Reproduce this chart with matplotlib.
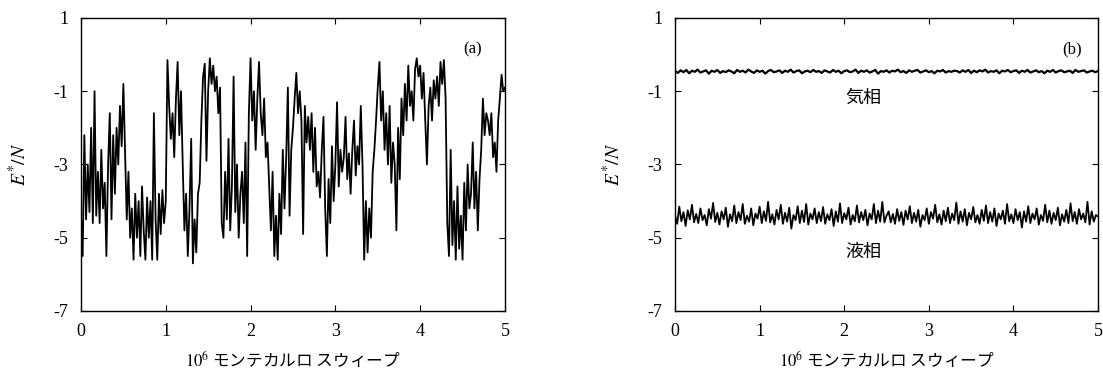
import matplotlib
matplotlib.use("Agg")
import matplotlib.pyplot as plt
import numpy as np

# fonts
plt.rcParams['font.family'] = ['Liberation Serif', 'Noto Sans CJK JP']
plt.rcParams['mathtext.fontset'] = 'stix'
plt.rcParams['axes.unicode_minus'] = False

energy_a = [
    -4.4, -5.5, -2.2, -4.5, -3.0,  -4.3, -2.0, -4.6, -1.0, -4.4,
    -3.2, -4.6, -2.6, -4.2, -3.5,  -5.5, -3.0, -1.6, -4.5, -2.2,
    -3.8, -2.0, -3.0, -1.4, -2.5,  -0.8, -2.6, -4.5, -3.2, -5.0,
    -4.2, -5.6, -3.8, -5.0, -4.0,  -5.5, -3.6, -4.8, -5.6, -3.9,
    -5.0, -4.0, -5.6, -1.6, -4.5,  -5.6, -3.8, -4.9, -3.7, -4.6,
    -4.0, -0.15, -1.4, -2.3, -1.6, -2.8, -1.2, -0.2, -2.2, -1.0,
    -3.0, -4.8, -3.8, -5.5, -4.2,  -2.3, -5.7, -4.5, -5.4, -3.8,
    -3.5, -1.8, -0.6, -0.25, -2.9, -1.0, -0.1, -0.8, -0.3, -1.0,
    -0.6, -1.6, -0.9, -4.6, -5.0,  -3.2, -4.5, -2.3, -4.8, -3.6,
    -0.6, -4.3, -3.0, -5.0, -3.8,  -3.2, -4.6, -2.4, -5.5, -1.6,
    -0.1, -1.8, -1.0, -2.6, -1.2,  -0.2, -1.6, -2.2, -1.2, -2.8,
    -2.4, -3.6, -4.8, -3.2, -5.5,  -4.4, -5.6, -3.8, -4.9, -2.6,
    -4.2, -2.8, -0.9, -4.4, -2.6,  -2.0, -1.2, -0.5, -1.6, -1.0,
    -1.8, -4.9, -1.4, -2.4, -1.7,  -2.6, -1.6, -3.2, -2.0, -3.6,
    -3.2, -3.9, -2.6, -1.7, -4.2,  -5.5, -3.4, -4.6, -2.5, -4.0,
    -3.0, -1.3, -3.6, -2.6, -3.2,  -2.8, -1.7, -3.4, -2.7, -3.8,
    -2.6, -1.8, -3.3, -2.5, -3.0,  -1.4, -3.0, -5.6, -4.0, -5.4,
    -4.2, -5.0, -3.2, -2.6, -1.8,  -0.9, -0.2, -1.8, -1.0, -2.6,
    -1.6, -3.0, -1.4, -3.5, -2.4,  -3.0, -4.8, -2.0, -3.4, -1.2,
    -2.2, -0.8, -1.8, -0.3, -1.4,  -1.0, -1.8, -0.4, -0.1, -0.6,
    -0.3, -1.2, -0.5, -1.8, -3.0,  -1.4, -0.9, -1.8, -0.7, -1.2,
    -0.6, -1.4, -0.2, -0.8, -0.15, -1.2, -4.6, -5.5, -2.6, -5.2,
    -4.0, -5.6, -3.6, -5.3, -4.4,  -5.6, -3.5, -4.8, -3.0, -4.2,
    -3.8, -2.4, -4.2, -3.2, -4.8,  -3.4, -2.6, -1.2, -2.2, -1.6,
    -1.8, -2.2, -1.6, -2.8, -2.4,  -3.2, -1.8, -1.2, -0.55, -1.0,
    -0.9,
]

# (b) gas phase and liquid phase traces
energy_gas = [
    -0.45, -0.50, -0.43, -0.48, -0.42, -0.51, -0.44, -0.47, -0.41, -0.49,
    -0.46, -0.43, -0.52, -0.44, -0.47, -0.42, -0.50, -0.45, -0.48, -0.43,
    -0.46, -0.51, -0.42, -0.47, -0.44, -0.49, -0.41, -0.46, -0.50, -0.43,
    -0.47, -0.44, -0.52, -0.45, -0.42, -0.48, -0.46, -0.43, -0.50, -0.44,
    -0.47, -0.41, -0.49, -0.45, -0.43, -0.51, -0.46, -0.44, -0.48, -0.42,
    -0.47, -0.45, -0.50, -0.43, -0.46, -0.49, -0.42, -0.47, -0.44, -0.51,
    -0.45, -0.43, -0.48, -0.46, -0.41, -0.50, -0.44, -0.47, -0.43, -0.49,
    -0.46, -0.42, -0.52, -0.45, -0.47, -0.43, -0.49, -0.44, -0.46, -0.41,
    -0.48, -0.45, -0.50, -0.43, -0.47, -0.44, -0.42, -0.49, -0.46, -0.43,
    -0.48, -0.45, -0.51, -0.44, -0.46, -0.42, -0.49, -0.45, -0.47, -0.44,
    -0.45, -0.49, -0.43, -0.47, -0.42, -0.50, -0.44, -0.48, -0.43, -0.46,
    -0.41, -0.49, -0.45, -0.47, -0.43, -0.51, -0.44, -0.46, -0.42, -0.48,
    -0.45, -0.43, -0.50, -0.44, -0.47, -0.42, -0.49, -0.46, -0.43, -0.48,
    -0.45, -0.51, -0.44, -0.47, -0.42, -0.49, -0.45, -0.43, -0.48, -0.46,
    -0.44, -0.50, -0.42, -0.47, -0.45, -0.43, -0.49, -0.46, -0.44, -0.48,
    -0.45,
]
energy_liq = [
    -4.40, -4.62, -4.15, -4.55, -4.30, -4.68, -4.25, -4.50, -4.10, -4.58,
    -4.35, -4.60, -4.20, -4.52, -4.38, -4.66, -4.22, -4.48, -4.05, -4.57,
    -4.32, -4.64, -4.28, -4.50, -4.18, -4.70, -4.36, -4.55, -4.12, -4.60,
    -4.30, -4.52, -4.08, -4.62, -4.40, -4.56, -4.20, -4.66, -4.34, -4.48,
    -4.15, -4.60, -4.28, -4.54, -4.02, -4.58, -4.36, -4.64, -4.24, -4.50,
    -4.10, -4.62, -4.32, -4.56, -4.18, -4.75, -4.38, -4.52, -4.14, -4.60,
    -4.26, -4.57, -4.08, -4.64, -4.34, -4.50, -4.20, -4.60, -4.30, -4.55,
    -4.16, -4.62, -4.36, -4.52, -4.22, -4.68, -4.28, -4.56, -4.06, -4.60,
    -4.33, -4.50, -4.18, -4.64, -4.38, -4.55, -4.12, -4.58, -4.30, -4.52,
    -4.24, -4.66, -4.34, -4.50, -4.08, -4.60, -4.26, -4.56, -4.02, -4.58,
    -4.40, -4.28, -4.58, -4.35, -4.62, -4.22, -4.54, -4.30, -4.65, -4.26,
    -4.50, -4.14, -4.60, -4.32, -4.56, -4.24, -4.70, -4.38, -4.52, -4.20,
    -4.62, -4.30, -4.48, -4.10, -4.58, -4.36, -4.64, -4.26, -4.55, -4.18,
    -4.60, -4.34, -4.52, -4.04, -4.62, -4.28, -4.56, -4.22, -4.66, -4.32,
    -4.50, -4.16, -4.58, -4.38, -4.62, -4.24, -4.54, -4.12, -4.60, -4.30,
    -4.56, -4.20, -4.68, -4.34, -4.50, -4.26, -4.62, -4.08, -4.55, -4.36,
    -4.60, -4.22, -4.52, -4.30, -4.72, -4.28, -4.56, -4.14, -4.60, -4.34,
    -4.50, -4.20, -4.64, -4.38, -4.54, -4.10, -4.58, -4.26, -4.62, -4.32,
    -4.52, -4.18, -4.66, -4.36, -4.56, -4.24, -4.60, -4.06, -4.55, -4.30,
    -4.62, -4.22, -4.50, -4.34, -4.58, -4.02, -4.64, -4.28, -4.56, -4.38,
    -4.42,
]

x_max = 5.0
y_ticks = [-7, -5, -3, -1, 1]
x_ticks = [0, 1, 2, 3, 4, 5]
xlabel = r"$10^6$ モンテカルロ スウィープ"
ylabel = r"$E^{*}/N$"
cjk = ['Noto Sans CJK JP', 'DejaVu Sans']

fig = plt.figure(figsize=(11.03, 3.76), dpi=100)
ax_a = fig.add_axes([0.0734, 0.1729, 0.3844, 0.7793])
ax_b = fig.add_axes([0.612, 0.1729, 0.3835, 0.7793])


def style(ax):
    ax.set_xlim(0, x_max)
    ax.set_ylim(-7, 1)
    ax.set_xticks(x_ticks)
    ax.set_yticks(y_ticks)
    ax.tick_params(direction='in', top=True, right=True, length=4,
                   width=0.8, labelsize=13, pad=9)
    for s in ax.spines.values():
        s.set_linewidth(1.0)
    ax.set_xlabel(xlabel, fontsize=12, family=cjk, labelpad=7)
    ax.set_ylabel(ylabel, fontsize=14, labelpad=17)


# (a)
xa = np.linspace(0, x_max, len(energy_a))
ax_a.plot(xa, energy_a, color='black', lw=1.3)
style(ax_a)
ax_a.text(4.62, 0.13, "(a)", fontsize=12, ha='center', va='center')

# (b)
xg = np.linspace(0, x_max, len(energy_gas))
xl = np.linspace(0, x_max, len(energy_liq))
ax_b.plot(xg, energy_gas, color='black', lw=1.6)
ax_b.plot(xl, energy_liq, color='black', lw=1.3)
style(ax_b)
ax_b.text(4.69, 0.15, "(b)", fontsize=12, ha='center', va='center')
ax_b.text(2.23, -1.19, "気相", fontsize=13, family=cjk, ha='center', va='center')
ax_b.text(2.23, -5.39, "液相", fontsize=13, family=cjk, ha='center', va='center')

fig.savefig("out.png", dpi=100)
